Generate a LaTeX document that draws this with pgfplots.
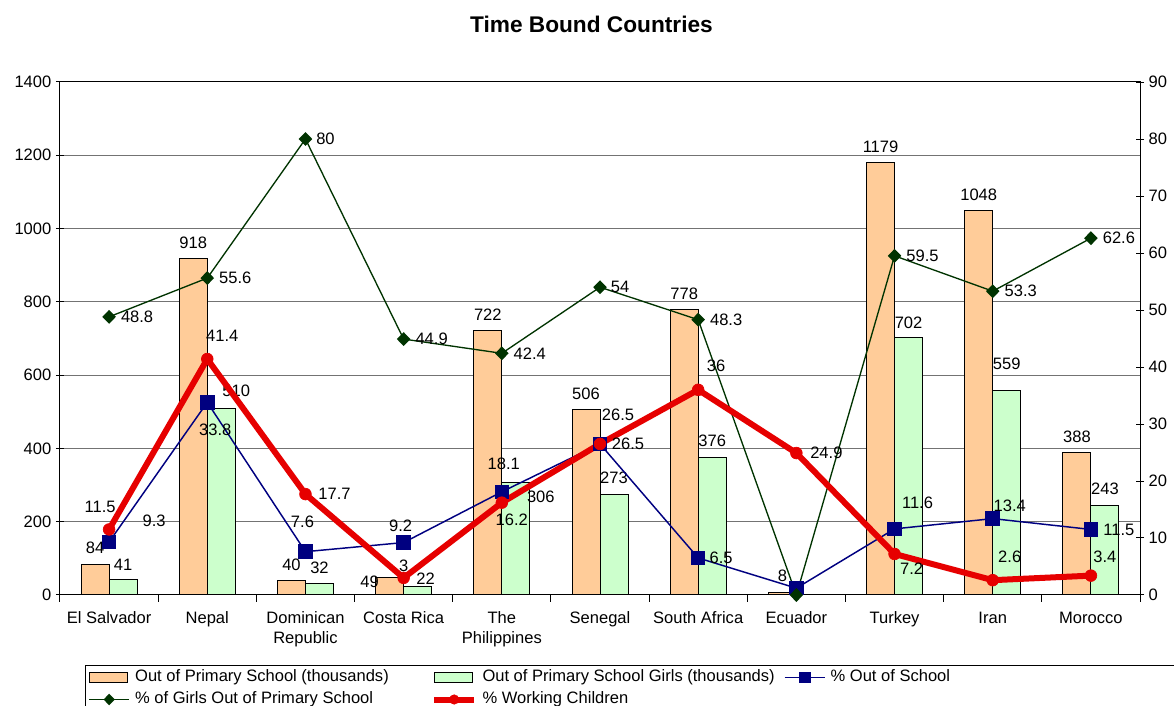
\documentclass[border=0pt]{standalone}
\usepackage{pgfplots}
\pgfplotsset{compat=1.18}
\usepackage{fontspec}
\setmainfont{Liberation Sans}
\definecolor{orfill}{HTML}{FFCC99}
\definecolor{grfill}{HTML}{CCFFCC}
\definecolor{navyb}{HTML}{000080}
\definecolor{dkgreen}{HTML}{003300}
\definecolor{redline}{HTML}{E60000}
\newcommand{\lf}{\fontsize{12.4}{15}\selectfont}

\pgfplotstableread{
x y dx dy lab
0 84 0 16 84
1 918 0 16 918
2 40 0 16 40
3 49 -20 -5 49
4 722 0 16 722
5 506 0 16 506
6 778 0 16 778
7 8 0 16 8
8 1179 0 16 1179
9 1048 0 16 1048
10 388 0 16 388
}\orange
\pgfplotstableread{
x y dx dy lab
0 41 0 15 41
1 510 15 17 510
2 32 0 15 32
3 22 8 8 22
4 306 25 -14 306
5 273 0 17 273
6 376 0 16 376
8 702 0 15 702
9 559 0 26 559
10 243 0 17 243
}\green
\pgfplotstableread{
x y dx dy lab
0 9.3 45 21 9.3
1 33.8 8 -27 33.8
2 7.6 -3 30 7.6
3 9.2 -3 17 9.2
4 18.1 2 28 18.1
5 26.5 28 0 26.5
6 6.5 23 0 6.5
7 1.2 0 0 {}
8 11.6 23 26 11.6
9 13.4 17 13 13.4
10 11.5 28 0 11.5
}\blue
\pgfplotstableread{
x y dx dy lab
0 48.8 28 0 48.8
1 55.6 28 0 55.6
2 80 20 0 80
3 44.9 28 0 44.9
4 42.4 28 0 42.4
5 54 20 0 54
6 48.3 28 0 48.3
7 0 0 0 {}
8 59.5 28 0 59.5
9 53.3 28 0 53.3
10 62.6 28 0 62.6
}\girls
\pgfplotstableread{
x y dx dy lab
0 11.5 -9 23 11.5
1 41.4 15 23 41.4
2 17.7 29 0 17.7
3 3 0 12 3
4 16.2 10 -17 16.2
5 26.5 18 29 26.5
6 36 18 24 36
7 24.9 30 0 24.9
8 7.2 17 -15 7.2
9 2.6 17 23 2.6
10 3.4 14 19 3.4
}\work

\pgfplotsset{
  common/.style={
    scale only axis, width=810pt, height=384.75pt,
    xmin=-0.5, xmax=10.5,
    /pgf/number format/assume math mode=true,
    /pgf/number format/1000 sep={},
    tick label style={font=\lf},
    major tick length=6pt,
    axis line style={black, line width=0.75pt},
    tick style={black, line width=0.75pt},
  },
  lab/.style={
    point meta=explicit symbolic,
    nodes near coords={\pgfplotspointmeta},
    visualization depends on={\thisrow{dx} \as \dx},
    visualization depends on={\thisrow{dy} \as \dy},
    every node near coord/.append style={font=\lf, text=black, anchor=center,
      xshift=\dx*0.75pt, yshift=\dy*0.75pt, inner sep=0pt},
  },
  barleg/.style={legend image code/.code={\draw[##1] (0pt,-3.75pt) rectangle (29pt,3.75pt);}},
  lineleg/.style={legend image code/.code={\draw[##1, mark repeat=2, mark phase=2, every mark/.append style={scale=0.8}] plot coordinates {(0pt,0pt) (15pt,0pt) (30pt,0pt)};}},
}

\begin{document}
\begin{tikzpicture}
\begin{axis}[common,
  ymin=0, ymax=1400, ytick={0,200,...,1400},
  ymajorgrids, grid style={black!55, line width=0.75pt},
  ytick pos=left, ytick align=center,
  xtick={0,...,10},
  xticklabels={El Salvador, Nepal, {Dominican\\Republic}, Costa Rica, {The\\Philippines}, Senegal, South Africa, Ecuador, Turkey, Iran, Morocco},
  x tick label style={align=center, text depth=0pt, yshift=-3pt},
  major x tick style={draw=none},
  minor xtick={-0.5,0.5,...,10.5},
  minor tick length=5pt,
  xtick align=outside, xtick pos=bottom,
  minor x tick style={black, line width=0.75pt},
  ybar=0pt, bar width=21pt,
]
\addplot[fill=orfill, draw=black, line width=0.75pt, lab] table[x=x, y=y, meta=lab] {\orange};
\addplot[fill=grfill, draw=black, line width=0.75pt, lab] table[x=x, y=y, meta=lab] {\green};
\end{axis}

\begin{axis}[common,
  ymin=0, ymax=90, ytick={0,10,...,90},
  axis y line*=right, axis x line=none, ytick align=center,
  legend columns=3,
  legend cell align=left,
  lineleg,
  legend style={at={(axis description cs:0,0)}, anchor=north west,
    xshift=18.75pt, yshift=-52.5pt,
    draw=black, line width=0.75pt, font=\lf,
    inner xsep=2.25pt, inner ysep=2pt, column sep=2pt, row sep=2.5pt,
    nodes={text height=8.5pt, text depth=2.5pt, inner ysep=1.5pt, inner xsep=2pt},
  },
]
\addlegendimage{fill=orfill, draw=black, line width=0.75pt, barleg}
\addlegendentry{\makebox[218pt][l]{Out of Primary School (thousands)}}
\addlegendimage{fill=grfill, draw=black, line width=0.75pt, barleg}
\addlegendentry{\makebox[222pt][l]{Out of Primary School Girls (thousands)}}
\addplot[navyb, line width=1.1pt, mark=square*, mark size=4.9pt, mark options={solid, fill=navyb}, lab] table[x=x, y=y, meta=lab] {\blue};
\addlegendentry{\makebox[260pt][l]{\% Out of School}}
\addplot[dkgreen, line width=1pt, mark=diamond*, mark size=4.5pt, mark options={solid, fill=dkgreen, xscale=1.3}, lab] table[x=x, y=y, meta=lab] {\girls};
\addlegendentry{\% of Girls Out of Primary School}
\addplot[redline, line width=4.5pt, mark=*, mark size=4.4pt, mark options={solid, fill=redline, line width=0.5pt}, lab] table[x=x, y=y, meta=lab] {\work};
\addlegendentry{\% Working Children}
\end{axis}

\node[font=\fontsize{17}{20}\selectfont\bfseries] at (398.6pt,428.25pt) {Time Bound Countries};

\pgfresetboundingbox
\path[use as bounding box] (-45pt,-83.25pt) rectangle (835.5pt,446.25pt);
\end{tikzpicture}
\end{document}
